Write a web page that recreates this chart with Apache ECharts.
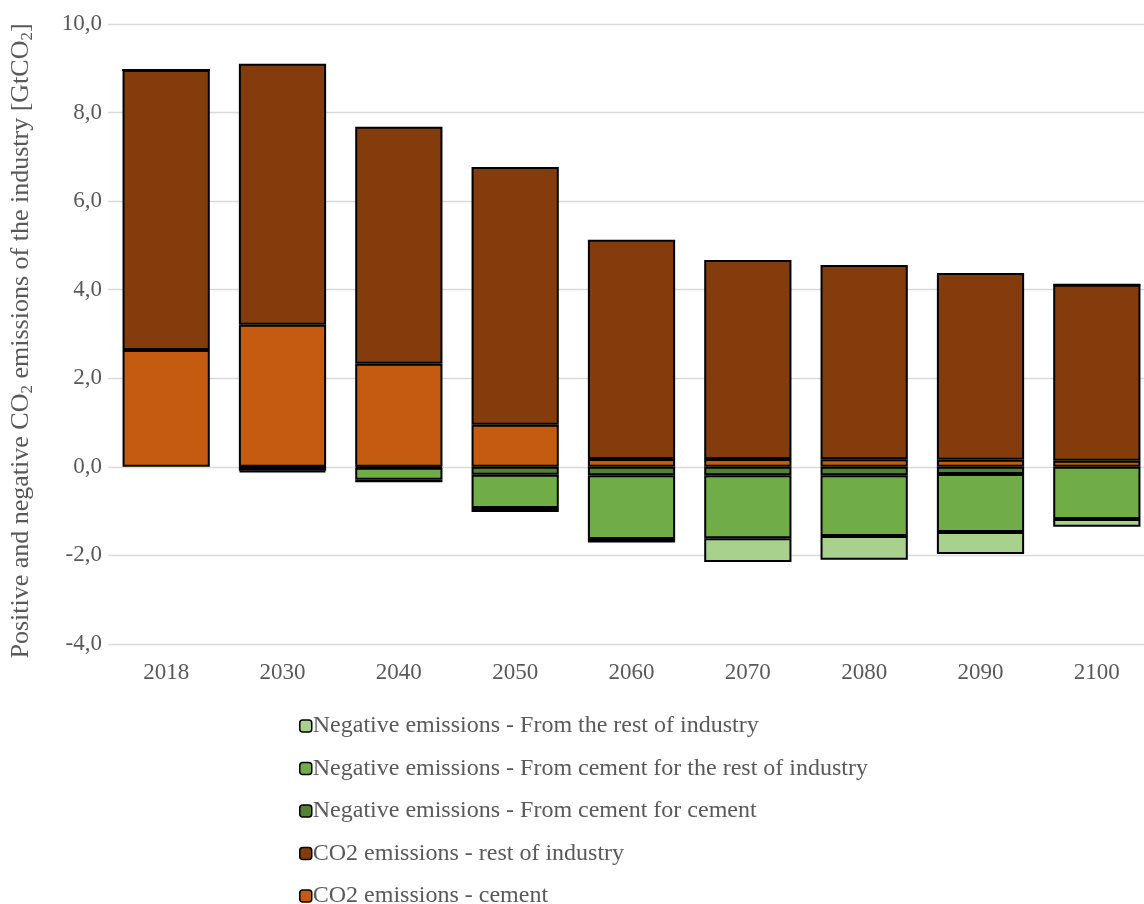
<!DOCTYPE html>
<html>
<head>
<meta charset="utf-8">
<script src="https://cdn.jsdelivr.net/npm/echarts@6/dist/echarts.min.js"></script>
<style>html,body{margin:0;padding:0;background:#fff}#c{width:1144px;height:904px}</style>
</head>
<body>
<div id="c"></div>
<script>
const categories = ['2018','2030','2040','2050','2060','2070','2080','2090','2100'];
const co2Cement = [2.64, 3.21, 2.33, 0.95, 0.18, 0.18, 0.17, 0.16, 0.14];
const co2Rest = [6.32, 5.89, 5.35, 5.82, 4.95, 4.49, 4.39, 4.22, 3.97];
const negCementForCement = [0, -0.01, -0.02, -0.18, -0.19, -0.19, -0.19, -0.16, 0];
const negCementForRest = [0, -0.08, -0.27, -0.75, -1.44, -1.42, -1.37, -1.31, -1.18];
const negRest = [0, -0.03, -0.06, -0.09, -0.08, -0.54, -0.54, -0.50, -0.17];
const yTicks = [-4, -2, 0, 2, 4, 6, 8, 10];

const FONT = '"Liberation Serif", "Times New Roman", serif';
const GREY = '#595959';

function mk(name, data, color) {
  return {
    name, type: 'bar', stack: 'total', data,
    barCategoryGap: '25%',
    itemStyle: { color, borderColor: '#000', borderWidth: 2 },
    emphasis: { disabled: true }
  };
}
const legendItem = name => ({ name, itemStyle: { borderColor: '#000', borderWidth: 1.5 } });

const chart = echarts.init(document.getElementById('c'));
chart.setOption({
  animation: false,
  textStyle: { fontFamily: FONT },
  grid: { left: 108, top: 24, bottom: 260, width: 1047, containLabel: false, outerBoundsMode: 'none' },
  legend: {
    orient: 'vertical', left: 294, top: 709, height: 260,
    itemWidth: 12, itemHeight: 12, itemGap: 18.5,
    textStyle: { fontFamily: FONT, fontSize: 24, color: GREY, padding: [0,0,0,-4] },
    data: [
      legendItem('Negative emissions - From the rest of industry'),
      legendItem('Negative emissions - From cement for the rest of industry'),
      legendItem('Negative emissions - From cement for cement'),
      legendItem('CO2 emissions - rest of industry'),
      legendItem('CO2 emissions - cement')
    ]
  },
  xAxis: {
    type: 'category', data: categories,
    axisLine: { show: false, onZero: false }, axisTick: { show: false },
    axisLabel: { fontFamily: FONT, fontSize: 23, color: GREY, margin: 17 }
  },
  yAxis: {
    type: 'value', min: yTicks[0], max: yTicks[yTicks.length - 1], interval: 2,
    axisLine: { show: false }, axisTick: { show: false },
    splitLine: { lineStyle: { color: '#d9d9d9', width: 1.3 } },
    axisLabel: {
      fontFamily: FONT, fontSize: 23, color: GREY, margin: 6,
      formatter: v => v.toFixed(1).replace('.', ',')
    },
    name: 'Positive and negative CO{s|2} emissions of the industry [GtCO{s|2}]',
    nameLocation: 'middle', nameGap: 72, nameRotate: 90,
    nameTextStyle: {
      fontFamily: FONT, fontSize: 26, color: GREY, lineHeight: 29, padding: [0, 14, 0, 0],
      rich: { s: { fontFamily: FONT, fontSize: 17, color: GREY, verticalAlign: 'bottom', lineHeight: 21 } }
    }
  },
  series: [
    mk('CO2 emissions - cement', co2Cement, '#C55A11'),
    mk('CO2 emissions - rest of industry', co2Rest, '#843C0C'),
    mk('Negative emissions - From cement for cement', negCementForCement, '#548235'),
    mk('Negative emissions - From cement for the rest of industry', negCementForRest, '#70AD47'),
    mk('Negative emissions - From the rest of industry', negRest, '#A9D18E')
  ]
});
</script>
</body>
</html>
